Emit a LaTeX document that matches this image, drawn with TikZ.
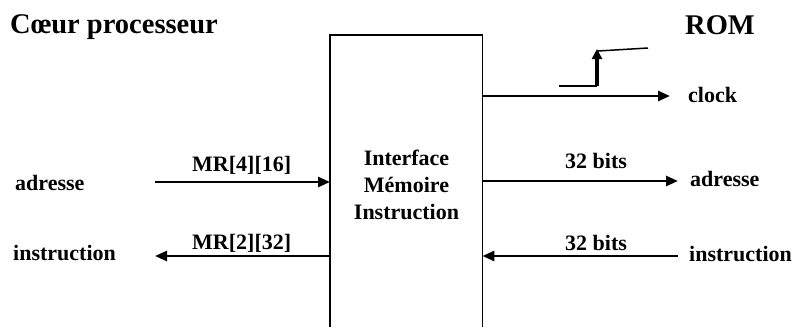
\documentclass[tikz,border=0pt]{standalone}
\usepackage{fontspec}
\setmainfont{Liberation Serif}
\usetikzlibrary{arrows.meta}
\begin{document}
\begin{tikzpicture}[x=1pt,y=-1pt,
  lbl/.style={anchor=base west,inner sep=0pt,font=\bfseries\fontsize{22}{27}\selectfont},
  ttl/.style={anchor=base west,inner sep=0pt,font=\bfseries\fontsize{28.5}{32}\selectfont},
  arr/.style={line width=2.6pt,-{Triangle[length=12pt,width=10pt]}},
  wire/.style={line width=1.5pt},
  edge/.style={line width=1.5pt}]
\useasboundingbox (0,0) rectangle (795,327);
% box
\node[minimum width=152pt,minimum height=292pt,anchor=north west,inner sep=0pt] (box) at (330,35) {};
\draw[edge] (box.south west) -- (box.north west) -- (box.north east) -- (box.south east);
\node[lbl,anchor=base] (bl1) at (406.5,165) {Interface};
\node[lbl,anchor=base] (bl2) at (406.5,192.5) {Mémoire};
\node[lbl,anchor=base] (bl3) at (406.5,219.5) {Instruction};
% titles
\node[ttl] (coeur) at (10,33) {Cœur processeur};
\node[ttl] (rom) at (685,34) {ROM};
% left side
\node[lbl] (adrL) at (15,190.5) {adresse};
\node[lbl] (insL) at (13,260) {instruction};
\node[lbl] (mr1) at (192,171.5) {MR[4][16]};
\node[lbl] (mr2) at (192,249) {MR[2][32]};
\coordinate (a1) at (155,182);
\coordinate (a2) at (155,256);
\draw[arr] (a1) -- (a1 -| box.west);
\draw[arr] (a2 -| box.west) -- (a2);
% right side
\node[lbl] (clk) at (688,102) {clock};
\node[lbl] (adrR) at (690,186) {adresse};
\node[lbl] (insR) at (689,261.5) {instruction};
\node[lbl] (b1) at (565,168) {32 bits};
\node[lbl] (b2) at (565,250) {32 bits};
\coordinate (c0) at (670,96);
\coordinate (a3) at (678,181);
\coordinate (a4) at (678,256);
\draw[arr] (c0 -| box.east) -- (c0);
\draw[arr] (a3 -| box.east) -- (a3);
\draw[arr] (a4) -- (a4 -| box.east);
% clock step
\coordinate (s1) at (559,86);
\coordinate (s2) at (597,86);
\coordinate (s3) at (597,49);
\coordinate (s4) at (598,51);
\coordinate (s5) at (648,48);
\draw[wire] (s1) -- (s2);
\draw[line width=3.5pt,-{Triangle[length=10pt,width=10pt]}] (s2) -- (s3);
\draw[wire] (s4) -- (s5);
\end{tikzpicture}
\end{document}
